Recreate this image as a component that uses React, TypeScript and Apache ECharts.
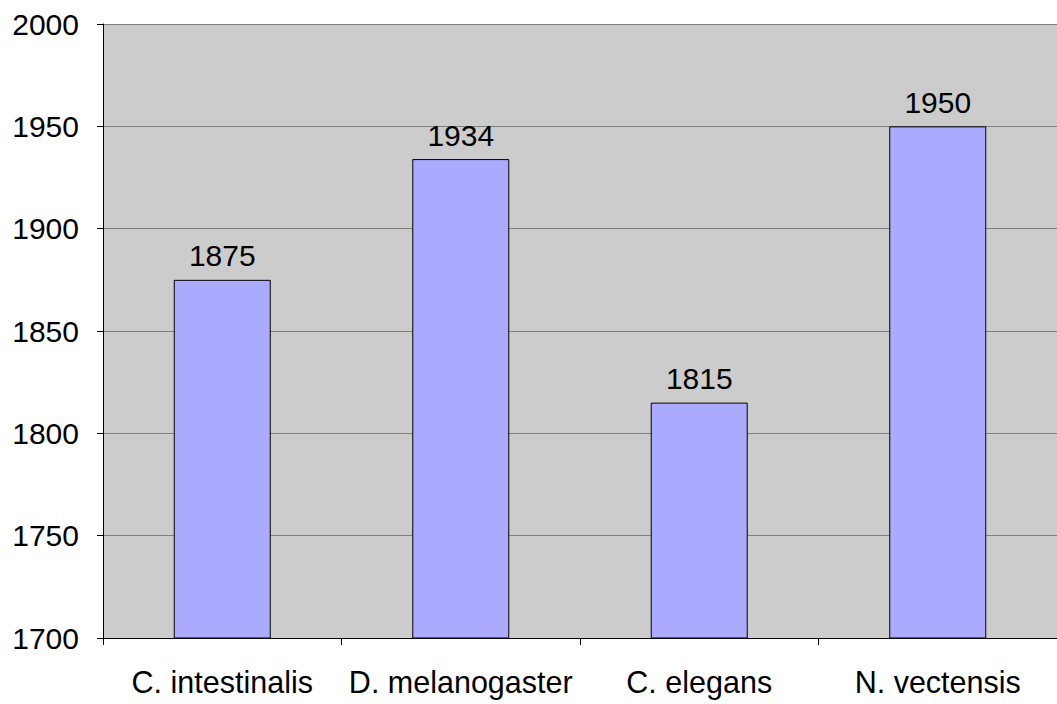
import React, { useEffect, useRef } from "react";
import * as echarts from "echarts";

const categories = ["C. intestinalis", "D. melanogaster", "C. elegans", "N. vectensis"];
const values = [1875, 1934, 1815, 1950];
const yMin = 1700;
const yMax = 2000;
const yInterval = 50;

export default function App() {
  const ref = useRef<HTMLDivElement>(null);
  useEffect(() => {
    if (!ref.current) return;
    const chart = echarts.init(ref.current, null, { renderer: "svg" });
    const font = "'Liberation Sans', Arial, sans-serif";
    chart.setOption({
      animation: false,
      grid: {
        left: 103,
        top: 24,
        width: 960,
        bottom: 66,
        show: true,
        backgroundColor: "#cccccc",
        borderWidth: 0,
      },
      xAxis: {
        type: "category",
        data: categories,
        axisLine: { lineStyle: { color: "#000", width: 1 } },
        axisTick: { show: true, length: 7, lineStyle: { color: "#000" } },
        axisLabel: { color: "#000", fontSize: 30.5, fontFamily: font, margin: 28, interval: 0 },
      },
      yAxis: {
        type: "value",
        min: yMin,
        max: yMax,
        interval: yInterval,
        axisLine: { show: true, lineStyle: { color: "#000", width: 1 } },
        axisTick: { show: true, length: 6, lineStyle: { color: "#000" } },
        axisLabel: {
          color: "#000",
          fontSize: 30,
          fontFamily: font,
          margin: 24,
          formatter: (v: number) => String(v),
        },
        splitLine: { show: true, lineStyle: { color: "#808080", width: 1 } },
      },
      series: [
        {
          type: "bar",
          data: values,
          barWidth: 97,
          itemStyle: { color: "#aaaaff", borderColor: "#000", borderWidth: 1 },
          label: {
            show: true,
            position: "top",
            distance: 9,
            color: "#000",
            fontSize: 30,
            fontFamily: font,
          },
        },
      ],
    });
    return () => chart.dispose();
  }, []);
  return (
    <div
      ref={ref}
      style={{ position: "fixed", left: 0, top: 0, width: 1057, height: 704, background: "#fff" }}
    />
  );
}
